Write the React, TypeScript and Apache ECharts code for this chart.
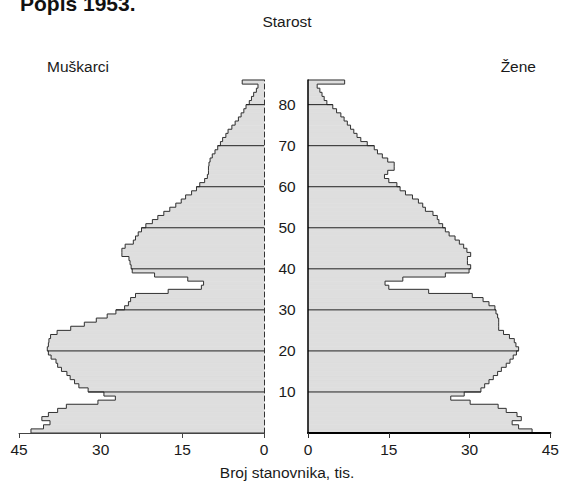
import React, { useEffect, useRef } from "react";
import * as echarts from "echarts";

// Age 0 .. 84, last entry is 85+
const menValues = [
  42.8, 40.5, 39.3, 40.8, 39.6, 37.9, 36.3, 30.5, 27.3, 29.4,
  32.3, 34.0, 34.8, 35.6, 36.2, 37.2, 37.9, 38.2, 39.1, 39.6,
  39.8, 39.6, 39.5, 39.2, 38.0, 35.5, 33.0, 30.8, 28.8, 27.2,
  25.6, 24.9, 24.5, 23.6, 17.6, 11.5, 11.1, 14.0, 20.1, 24.2,
  24.4, 24.6, 24.8, 26.1, 26.1, 25.5, 24.0, 23.6, 23.1, 22.5,
  21.7, 20.5, 19.5, 18.4, 17.3, 16.2, 15.2, 14.4, 13.3, 12.4,
  11.8, 10.9, 10.4, 10.2, 10.2, 10.1, 9.9, 9.5, 9.0, 8.5,
  8.0, 7.6, 7.0, 6.6, 5.9, 5.3, 4.7, 4.2, 3.7, 3.3,
  2.7, 2.3, 1.9, 1.4, 1.1, 4.0,
];

const womenValues = [
  41.6, 39.1, 37.9, 39.6, 38.8, 36.8, 35.3, 30.1, 26.5, 29.0,
  32.1, 32.8, 33.6, 34.4, 35.2, 35.9, 36.8, 37.5, 38.1, 38.7,
  39.1, 38.6, 38.3, 37.4, 36.3, 35.4, 35.4, 35.4, 35.2, 34.9,
  34.7, 33.6, 32.5, 30.5, 22.4, 15.0, 14.3, 17.6, 25.5, 29.9,
  30.2, 29.6, 29.6, 30.2, 29.5, 28.9, 28.1, 27.3, 26.2, 25.5,
  25.0, 24.3, 24.0, 23.2, 21.8, 21.3, 20.5, 19.4, 18.1, 17.1,
  16.5, 15.0, 14.2, 14.8, 16.0, 16.0, 14.8, 13.8, 12.9, 12.3,
  11.0, 9.8, 9.1, 8.5, 7.9, 7.3, 6.7, 6.1, 5.3, 4.6,
  3.5, 3.0, 2.6, 2.2, 1.7, 6.8,
];

const ages = menValues.map((_, i) => i);
const ageTicks = [10, 20, 30, 40, 50, 60, 70, 80];
const xTicks = [0, 15, 30, 45];

const titleText = "Popis 1953.";
const ageTitle = "Starost";
const menLabel = "Muškarci";
const womenLabel = "Žene";
const xTitle = "Broj stanovnika, tis.";

const FONT = "'Liberation Sans', Arial, Helvetica, sans-serif";
const FS = 15.5;
const TXT = "#1a1a1a";
const FILL = "#dedede";

function fillRender(params: any, api: any) {
  const v = api.value(0);
  const a = api.value(1);
  const bl = api.coord([0, a]);
  const tr = api.coord([v, a + 1]);
  return {
    type: "rect",
    shape: {
      x: Math.min(bl[0], tr[0]),
      y: tr[1],
      width: Math.abs(tr[0] - bl[0]),
      height: bl[1] - tr[1],
    },
    style: { fill: FILL, stroke: FILL, lineWidth: 0.8 },
  };
}

function makeOutline(values: number[]) {
  return (params: any, api: any) => {
    const i = params.dataIndex;
    const v = api.value(0);
    const a = api.value(1);
    const prev = i > 0 ? values[i - 1] : 0;
    const bl = api.coord([0, a]);
    const tr = api.coord([v, a + 1]);
    const pv = api.coord([prev, a]);
    const pts: number[][] = [
      [pv[0], bl[1]],
      [tr[0], bl[1]],
      [tr[0], tr[1]],
    ];
    if (i === values.length - 1) pts.push([bl[0], tr[1]]);
    const children: any[] = [
      {
        type: "polyline",
        shape: { points: pts },
        style: { stroke: "#333", lineWidth: 1, fill: "none" },
      },
    ];
    if (a > 0 && a % 10 === 0) {
      const far = api.coord([Math.max(prev, v), a]);
      children.push({
        type: "line",
        shape: { x1: bl[0], y1: bl[1], x2: far[0], y2: bl[1] },
        style: { stroke: "#222", lineWidth: 1 },
      });
    }
    return { type: "group", children };
  };
}

export default function App() {
  const ref = useRef<HTMLDivElement>(null);
  useEffect(() => {
    if (!ref.current) return;
    const chart = echarts.init(ref.current, undefined, { renderer: "svg" });
    const menData = menValues.map((v, i) => [v, ages[i]]);
    const womenData = womenValues.map((v, i) => [v, ages[i]]);
    const xLabel = {
      show: true,
      fontSize: FS,
      color: TXT,
      fontFamily: FONT,
      margin: 8,
      customValues: xTicks,
    };
    const option: any = {
      animation: false,
      grid: [
        { left: 19, top: 80, width: 245, height: 353 },
        { left: 308, top: 80, width: 244.5, height: 353 },
      ],
      xAxis: [
        {
          gridIndex: 0,
          type: "value",
          min: 0,
          max: 45,
          interval: 15,
          inverse: true,
          splitLine: { show: false },
          axisLine: { show: true, onZero: false, lineStyle: { color: "#444", width: 1 } },
          axisTick: { show: true, length: 5, lineStyle: { color: "#444" } },
          axisLabel: { ...xLabel },
          z: 10,
        },
        {
          gridIndex: 1,
          type: "value",
          min: 0,
          max: 45,
          interval: 15,
          splitLine: { show: false },
          axisLine: { show: true, onZero: false, lineStyle: { color: "#000", width: 2 } },
          axisTick: { show: true, length: 5, lineStyle: { color: "#333" } },
          axisLabel: { ...xLabel },
          z: 10,
        },
      ],
      yAxis: [
        {
          gridIndex: 0,
          type: "value",
          min: 0,
          max: 86,
          interval: 10,
          position: "right",
          splitLine: { show: false },
          axisTick: { show: false },
          axisLabel: { show: false },
          axisLine: { show: true, onZero: false, lineStyle: { color: "#333", width: 1, type: [5, 3] } },
          z: 10,
        },
        {
          gridIndex: 1,
          type: "value",
          min: 0,
          max: 86,
          interval: 10,
          position: "left",
          splitLine: { show: false },
          axisTick: { show: false },
          axisLine: { show: true, onZero: false, lineStyle: { color: "#000", width: 1.5 } },
          axisLabel: {
            show: true,
            align: "center",
            margin: 21,
            fontSize: FS,
            color: TXT,
            fontFamily: FONT,
            formatter: (v: number) => (ageTicks.indexOf(v) >= 0 ? String(v) : ""),
          },
          z: 10,
        },
      ],
      series: [
        {
          type: "custom",
          xAxisIndex: 0,
          yAxisIndex: 0,
          data: menData,
          encode: { x: 0, y: 1 },
          renderItem: fillRender,
          z: 2,
          silent: true,
        },
        {
          type: "custom",
          xAxisIndex: 1,
          yAxisIndex: 1,
          data: womenData,
          encode: { x: 0, y: 1 },
          renderItem: fillRender,
          z: 2,
          silent: true,
        },
        {
          type: "custom",
          xAxisIndex: 0,
          yAxisIndex: 0,
          data: menData,
          encode: { x: 0, y: 1 },
          renderItem: makeOutline(menValues),
          z: 3,
          silent: true,
        },
        {
          type: "custom",
          xAxisIndex: 1,
          yAxisIndex: 1,
          data: womenData,
          encode: { x: 0, y: 1 },
          renderItem: makeOutline(womenValues),
          z: 3,
          silent: true,
        },
      ],
      graphic: [
        {
          type: "text",
          x: 20,
          y: 3,
          style: {
            text: titleText,
            font: `bold 21px ${FONT}`,
            fill: "#111",
            textAlign: "left",
            textVerticalAlign: "middle",
          },
        },
        {
          type: "text",
          x: 287,
          y: 21,
          style: {
            text: ageTitle,
            font: `${FS}px ${FONT}`,
            fill: TXT,
            textAlign: "center",
            textVerticalAlign: "middle",
          },
        },
        {
          type: "text",
          x: 47,
          y: 66,
          style: {
            text: menLabel,
            font: `${FS}px ${FONT}`,
            fill: TXT,
            textAlign: "left",
            textVerticalAlign: "middle",
          },
        },
        {
          type: "text",
          x: 536,
          y: 66,
          style: {
            text: womenLabel,
            font: `${FS}px ${FONT}`,
            fill: TXT,
            textAlign: "right",
            textVerticalAlign: "middle",
          },
        },
        {
          type: "text",
          x: 287,
          y: 472,
          style: {
            text: xTitle,
            font: `${FS}px ${FONT}`,
            fill: TXT,
            textAlign: "center",
            textVerticalAlign: "middle",
          },
        },
      ],
    };
    chart.setOption(option);
    return () => chart.dispose();
  }, []);
  return (
    <div
      ref={ref}
      style={{ position: "fixed", left: 0, top: 0, width: 562, height: 483, background: "#fff" }}
    />
  );
}
